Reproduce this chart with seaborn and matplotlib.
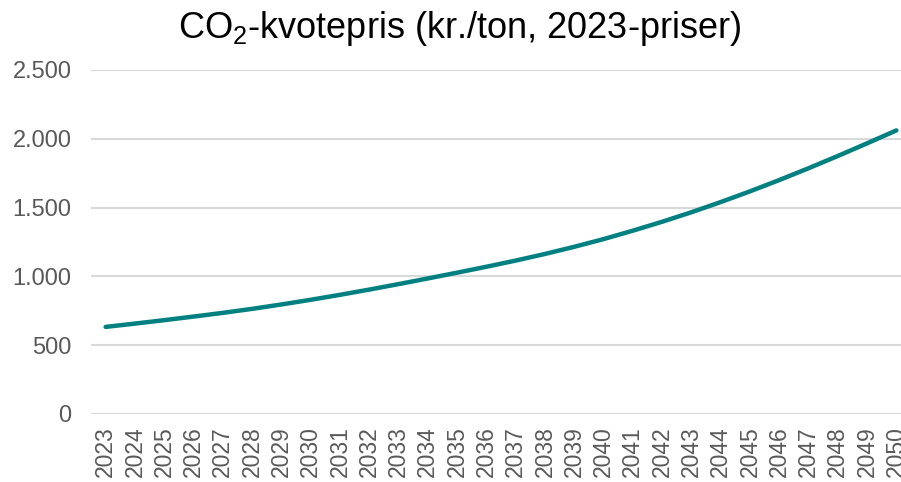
import matplotlib
matplotlib.use("Agg")
import matplotlib.pyplot as plt
import seaborn as sns
import pandas as pd

years = list(range(2023, 2051))
prices = [633, 657, 682, 708, 735, 764, 796, 830, 866, 904,
          944, 985, 1027, 1070, 1115, 1163, 1215, 1271, 1332, 1397,
          1466, 1540, 1618, 1700, 1786, 1875, 1967, 2061]
y_ticks = [0, 500, 1000, 1500, 2000, 2500]
y_labels = ["0", "500", "1.000", "1.500", "2.000", "2.500"]
title = r"CO$_{\mathregular{2}}$-kvotepris (kr./ton, 2023-priser)"

sns.set_theme(style="white")
plt.rcParams["font.family"] = ["Liberation Sans", "DejaVu Sans"]
plt.rcParams["mathtext.fontset"] = "custom"
plt.rcParams["mathtext.rm"] = "Liberation Sans"
plt.rcParams["mathtext.it"] = "Liberation Sans"

df = pd.DataFrame({"idx": list(range(len(years))), "pris": prices})

fig = plt.figure(figsize=(9.01, 4.82), dpi=100)
ax = fig.add_axes([91 / 901, (482 - 414) / 482, 820 / 901, 344 / 482])

sns.lineplot(data=df, x="idx", y="pris", ax=ax, color="#008080",
             linewidth=3.2, solid_capstyle="round", zorder=3)

ax.set_xlim(-0.5, len(years) - 0.5)
ax.set_ylim(0, 2500)
ax.set_yticks(y_ticks)
ax.set_yticklabels(y_labels)
ax.set_xticks(list(range(len(years))))
ax.set_xticklabels([str(y) for y in years], rotation=90)
ax.tick_params(axis="y", length=0, pad=14, labelsize=17, labelcolor="#595959")
ax.tick_params(axis="x", length=0, pad=9, labelsize=16.5, labelcolor="#595959")
ax.grid(axis="y", color="#d9d9d9", linewidth=1.5)
ax.grid(axis="x", visible=False)
for s in ax.spines.values():
    s.set_visible(False)
ax.set_xlabel("")
ax.set_ylabel("")

fig.text(460 / 901, 1 - 28 / 482, title, ha="center", va="center",
         fontsize=26, color="black")

fig.savefig("out.png", dpi=100)
